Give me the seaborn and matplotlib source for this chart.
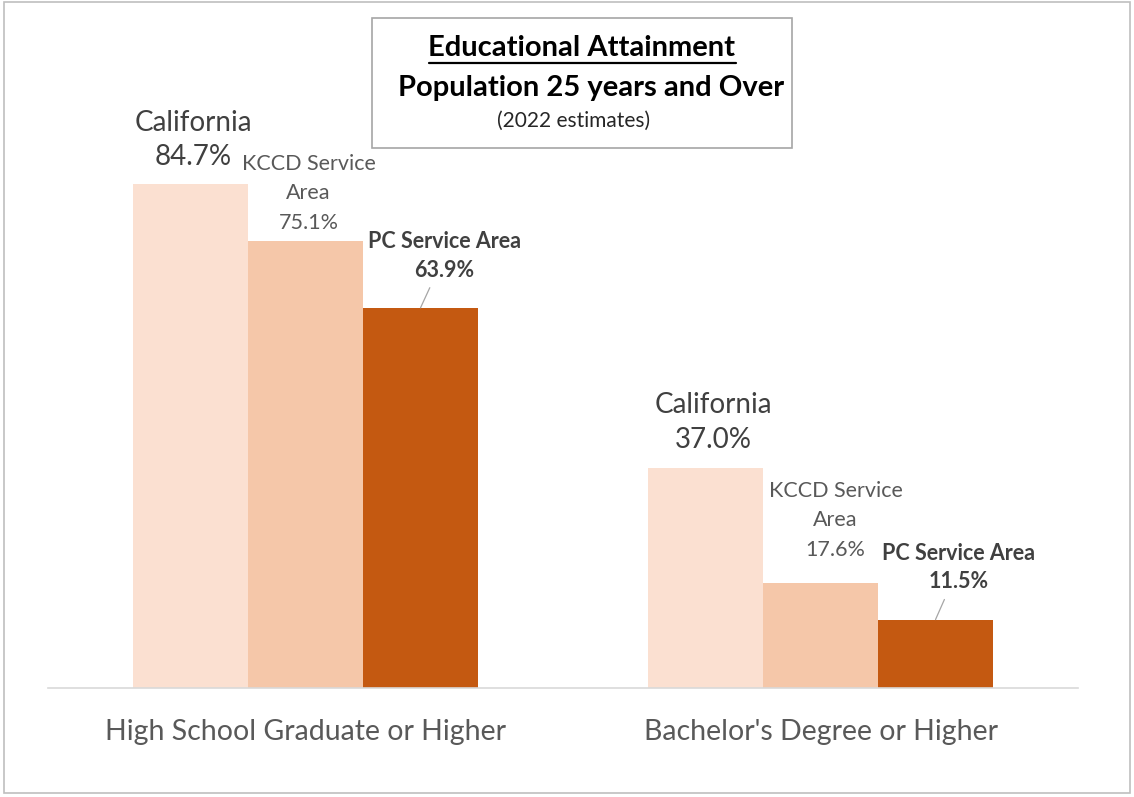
import pandas as pd
import seaborn as sns
import matplotlib.pyplot as plt
from matplotlib.patches import Rectangle
from matplotlib.lines import Line2D

# values (percent of population 25+)
categories = ["High School Graduate or Higher", "Bachelor's Degree or Higher"]
areas = ["California", "KCCD Service Area", "PC Service Area"]
area_labels = ["California", "KCCD Service\nArea", "PC Service Area"]
california = [84.7, 37.0]
kccd = [75.1, 17.6]
pc = [63.9, 11.5]

df = pd.DataFrame({
    "Category": categories * 3,
    "Area": [a for a in areas for _ in categories],
    "Value": california + kccd + pc,
})

colors = ["#FBE0D1", "#F5C7A9", "#C45911"]

sns.set_theme(style="white")
plt.rcParams['font.family'] = ['Lato', 'DejaVu Sans']

fig = plt.figure(figsize=(11.34, 7.97), dpi=100)
W, H = 1134, 797
ax = fig.add_axes([48 / W, 1 - 688 / H, 1030 / W, 595 / H])

sns.barplot(data=df, x="Category", y="Value", hue="Area", hue_order=areas,
            palette=colors, width=0.67, saturation=1, legend=False,
            linewidth=0, ax=ax)

ax.set_ylim(0, 100)
ax.set_xlim(-0.5, 1.5)
ax.set_xlabel("")
ax.set_ylabel("")
ax.set_yticks([])
for s in ["top", "left", "right"]:
    ax.spines[s].set_visible(False)
ax.spines["bottom"].set_color("#D9D9D9")
ax.spines["bottom"].set_linewidth(1.2)
ax.tick_params(axis="x", length=0, pad=22.5, labelsize=20.5, labelcolor="#595959")

# label styles and offsets (pixels from bar top centre)
styles = [
    dict(fontsize=20, color="#404040", fontweight="normal", linespacing=1.42),
    dict(fontsize=15.5, color="#595959", fontweight="normal", linespacing=1.6),
    dict(fontsize=15.5, color="#404040", fontweight="bold", linespacing=1.45),
]
offsets = [
    [(3, 44), (8, 45)],
    [(3, 48), (15, 63)],
    [(24, 52), (23, 52)],
]

for i, cont in enumerate(ax.containers):
    vals = [california, kccd, pc][i]
    for j, bar in enumerate(cont):
        xc = bar.get_x() + bar.get_width() / 2
        top = bar.get_height()
        txt = f"{area_labels[i]}\n{vals[j]:.1f}%"
        arrow = None
        if i == 2:
            arrow = dict(arrowstyle="-", color="#A6A6A6", lw=0.9, shrinkA=3, shrinkB=0)
        ax.annotate(txt, xy=(xc, top), xytext=offsets[i][j], textcoords="offset pixels",
                    ha="center", va="center", arrowprops=arrow, annotation_clip=False,
                    **styles[i])

# title box
fig.add_artist(Rectangle((372 / W, 1 - 148 / H), 420 / W, 130 / H, transform=fig.transFigure,
                         facecolor="white", edgecolor="#A6A6A6", lw=1.2))
t1 = fig.text(582 / W, 1 - 48 / H, "Educational Attainment", ha="center", va="center",
              fontsize=21, fontweight="bold", color="black")
fig.text(591 / W, 1 - 88 / H, "Population 25 years and Over", ha="center", va="center",
         fontsize=21, fontweight="bold", color="black")
fig.text(574 / W, 1 - 121 / H, "(2022 estimates)", ha="center", va="center",
         fontsize=15, color="#262626")

# underline the first title line
fig.canvas.draw()
bb = t1.get_window_extent()
yline = bb.y0 - 2
fig.add_artist(Line2D([bb.x0 / W, bb.x1 / W], [yline / H, yline / H],
                      transform=fig.transFigure, color="black", lw=1.6))

# outer border
fig.add_artist(Rectangle((4 / W, 4 / H), 1126 / W, 791 / H, transform=fig.transFigure,
                         fill=False, edgecolor="#BFBFBF", lw=1.2))

fig.savefig("out.png", dpi=100)
